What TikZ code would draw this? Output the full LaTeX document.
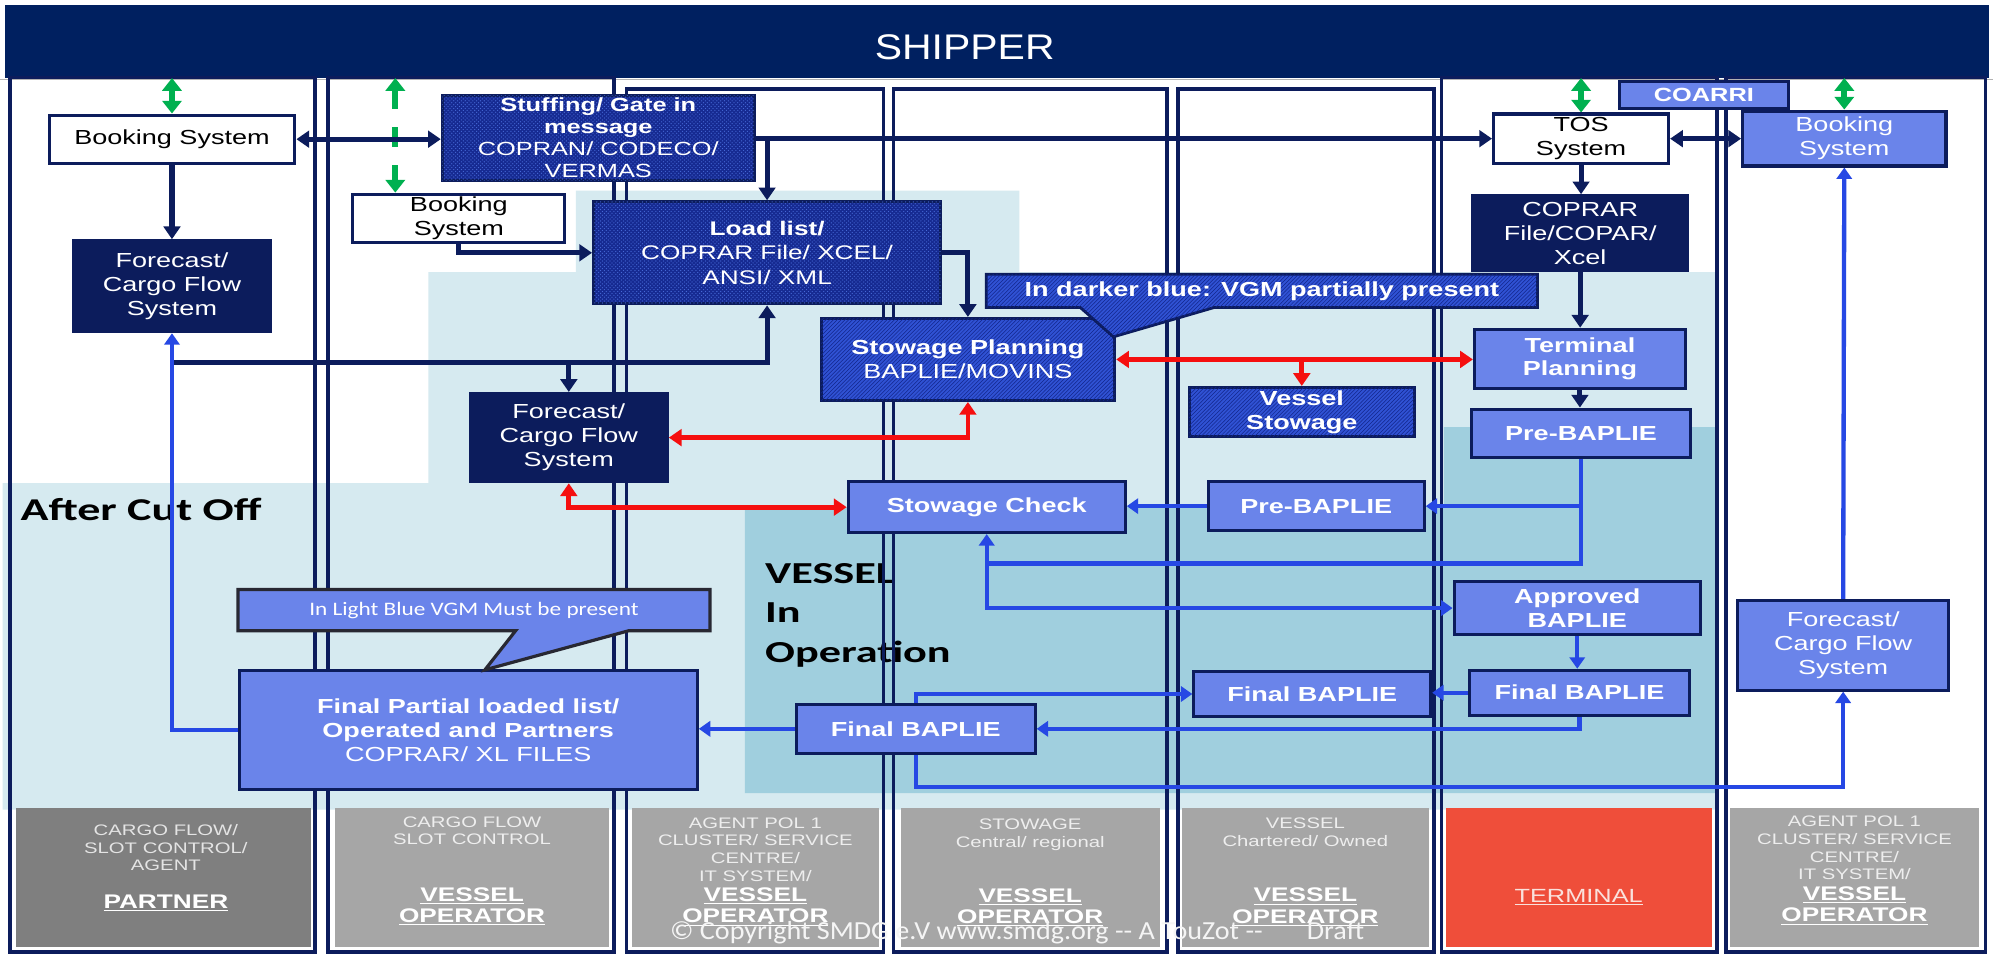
\documentclass[tikz,border=0pt]{standalone}
\usepackage{fontspec}
\setmainfont{Liberation Sans}[FakeStretch=1.33]
\newfontfamily\hdrfont{Liberation Sans}[FakeStretch=1.15]
\newfontfamily\calB{Carlito}[FakeStretch=1.45]
\newfontfamily\calR{Carlito}[FakeStretch=1.22]
\newfontfamily\calC{Carlito}[FakeStretch=1.08]
\usetikzlibrary{arrows.meta,patterns}
\pgfdeclarelayer{back}
\pgfdeclarelayer{mid}
\pgfsetlayers{back,mid,main}
\definecolor{hdrnavy}{RGB}{0,32,96}
\definecolor{navy}{RGB}{12,28,92}
\definecolor{lbfill}{RGB}{106,132,234}
\definecolor{bline}{RGB}{38,72,228}
\definecolor{redline}{RGB}{245,15,15}
\definecolor{greenline}{RGB}{0,176,80}
\definecolor{bglight}{RGB}{214,234,240}
\definecolor{bgdark}{RGB}{160,207,222}
\definecolor{grayA}{RGB}{127,127,127}
\definecolor{grayB}{RGB}{166,166,166}
\definecolor{termred}{RGB}{239,78,58}
\definecolor{hatchbg}{RGB}{48,82,212}
\definecolor{hatchfg}{RGB}{18,38,140}
\definecolor{dotbg}{RGB}{22,42,145}
\definecolor{dotfg}{RGB}{70,105,215}
\definecolor{calloutline}{RGB}{40,40,50}
\definecolor{graytxt}{RGB}{238,238,238}
\definecolor{graytxtA}{RGB}{228,228,228}
\definecolor{termtxt}{RGB}{250,225,220}
\definecolor{copytxt}{RGB}{245,245,245}
\tikzset{
  box/.style={draw=navy, line width=2.4pt, inner sep=0pt, align=center,
    font=\fontsize{16}{18.8}\selectfont},
  whitebox/.style={box, fill=white, text=black},
  navybox/.style={box, fill=navy, text=white},
  lbbox/.style={box, fill=lbfill, text=white},
  hatchbox/.style={box, fill=hatchbg, text=white,
    postaction={pattern=north east lines, pattern color=hatchfg}},
  dotbox/.style={box, fill=dotbg, text=white,
    postaction={pattern=crosshatch dots, pattern color=dotfg}},
  colln/.style={draw=navy, line width=2.8pt},
  nv/.style={draw=navy, line width=4pt},
  rd/.style={draw=redline, line width=3.7pt},
  bl/.style={draw=bline, line width=3.4pt},
  gr/.style={draw=greenline, line width=4.5pt},
  arr/.style={-{Triangle[length=10pt,width=13pt]}},
  darr/.style={{Triangle[length=10pt,width=13pt]}-{Triangle[length=10pt,width=13pt]}},
  barr/.style={-{Triangle[length=9pt,width=12pt]}},
  garr/.style={{Triangle[length=10pt,width=15pt]}-{Triangle[length=10pt,width=15pt]}},
  graytext/.style={align=center, inner sep=0pt, text=graytxt,
    font=\fontsize{12}{13.9}\selectfont},
  graybold/.style={align=center, inner sep=0pt, text=white,
    font=\bfseries\fontsize{15.5}{16.8}\selectfont},
  biglabel/.style={anchor=base west, inner sep=0pt, text=black,
    font=\calB\bfseries\fontsize{24}{30}\selectfont}
}
\begin{document}
\begin{tikzpicture}[x=1pt,y=-1pt]
\useasboundingbox (0,0) rectangle (1568,751.35);
\begin{pgfonlayer}{back}
\fill[white] (0,0) rectangle (1568,751.35);
\fill[bglight] (453,150) -- (802,150) -- (802,214) -- (1352,214) -- (1352,637)
  -- (2,637) -- (2,380) -- (337,380) -- (337,214) -- (453,214) -- cycle;
\fill[bgdark] (586,399) -- (1136,399) -- (1136,336) -- (1352,336) -- (1352,624)
  -- (586,624) -- cycle;
\node[fill=hdrnavy, inner sep=0pt, minimum width=1561pt, minimum height=57pt,
  anchor=north west] (hdr) at (4,4) {};
\node[text=white, inner sep=0pt, font=\hdrfont\fontsize{28}{30}\selectfont]
  (shipper) at (759,37) {SHIPPER};
\draw[gray!60, line width=0.8pt] (0,62.5) -- (1568,62.5);
\node[biglabel, font=\calB\bfseries\fontsize{25}{30}\selectfont] (aco) at (16,409.8) {After Cut Off};
\node[biglabel] (vop1) at (601.8,459) {VESSEL};
\node[biglabel] (vop2) at (601.8,490) {In};
\node[biglabel] (vop3) at (601.8,521.5) {Operation};
\draw[colln] (8,61) rectangle (248,749);
\draw[colln] (258,61) rectangle (483,749);
\draw[colln] (493,70) rectangle (695,749);
\draw[colln] (703,70) rectangle (918,749);
\draw[colln] (927,70) rectangle (1128,749);
\draw[colln] (1134,61) rectangle (1351,749);
\draw[colln] (1358,61) rectangle (1562,749);
\fill[grayA] (12.5,636) rectangle (245,745);
\fill[grayB] (263.5,636) rectangle (479.3,745);
\fill[grayB] (497,636) rectangle (691.6,745);
\fill[grayB] (708.5,636) rectangle (912.5,745);
\fill[grayB] (930.2,636) rectangle (1124,745);
\fill[termred] (1138,636) rectangle (1346.6,745);
\fill[grayB] (1361,636) rectangle (1557,745);
\node[graytext, text=graytxtA] (t1a) at (130.5,667) {CARGO FLOW/\\SLOT CONTROL/\\AGENT};
\node[graybold] (t1b) at (130.5,710.4) {\underline{PARTNER}};
\node[graytext] (t2a) at (371.4,653.6) {CARGO FLOW\\SLOT CONTROL};
\node[graybold] (t2b) at (371.4,713) {\underline{VESSEL}\\\underline{OPERATOR}};
\node[graytext] (t3a) at (594.3,668.4) {AGENT POL 1\\CLUSTER/ SERVICE\\CENTRE/\\IT SYSTEM/};
\node[graybold] (t3b) at (594.3,713.3) {\underline{VESSEL}\\\underline{OPERATOR}};
\node[graytext] (t4a) at (810.5,656.5) {STOWAGE\\Central/ regional};
\node[graybold] (t4b) at (810.5,714) {\underline{VESSEL}\\\underline{OPERATOR}};
\node[graytext] (t5a) at (1027,655) {VESSEL\\Chartered/ Owned};
\node[graybold] (t5b) at (1027,713.6) {\underline{VESSEL}\\\underline{OPERATOR}};
\node[inner sep=0pt, text=termtxt, font=\fontsize{15}{17}\selectfont] (t6) at (1242,705.7) {\underline{TERMINAL}};
\node[graytext] (t7a) at (1459,667.2) {AGENT POL 1\\CLUSTER/ SERVICE\\CENTRE/\\IT SYSTEM/};
\node[graybold] (t7b) at (1459,712.5) {\underline{VESSEL}\\\underline{OPERATOR}};
\end{pgfonlayer}

% ---------- nodes ----------
\node[whitebox, minimum width=193.4pt, minimum height=38pt] (bsA) at (135.3,109.5) {Booking System};
\node[navybox, minimum width=154.6pt, minimum height=71.6pt] (fcA) at (135.3,225.2) {Forecast/\\Cargo Flow\\System};
\node[whitebox, minimum width=166.8pt, minimum height=38.3pt] (bsB) at (361,171.9) {Booking\\System};
\node[dotbox, minimum width=245.4pt, minimum height=67.4pt, font=\fontsize{15}{17.2}\selectfont] (stf) at (470.7,108.5)
  {\textbf{Stuffing/ Gate in}\\\textbf{message}\\COPRAN/ CODECO/\\VERMAS};
\node[dotbox, minimum width=273pt, minimum height=80.3pt, font=\fontsize{15.5}{19.2}\selectfont] (ll) at (603.5,198.9)
  {\textbf{Load list/}\\COPRAR File/ XCEL/\\ANSI/ XML};
\node[navybox, minimum width=155pt, minimum height=69.5pt] (fcB) at (447.5,344.3) {Forecast/\\Cargo Flow\\System};
\node[hatchbox, minimum width=231pt, minimum height=64.5pt] (sp) at (761.5,282.8) {\textbf{Stowage Planning}\\BAPLIE/MOVINS};
\node[hatchbox, minimum width=177.3pt, minimum height=38.9pt] (vs) at (1024.2,324.3) {\textbf{Vessel}\\\textbf{Stowage}};
\node[lbbox, minimum width=218pt, minimum height=40pt] (sc) at (776.3,399) {\textbf{Stowage Check}};
\node[lbbox, minimum width=170pt, minimum height=38.4pt] (pbE) at (1035.5,398.2) {\textbf{Pre-BAPLIE}};
\node[whitebox, minimum width=137.7pt, minimum height=38.8pt] (tos) at (1243.9,109.1) {TOS\\System};
\node[lbbox, minimum width=133pt, minimum height=21pt, font=\bfseries\fontsize{15}{17}\selectfont] (coarri) at (1340.5,74.8) {COARRI};
\node[lbbox, minimum width=160pt, minimum height=43.2pt] (bsG) at (1451,109) {Booking\\System};
\node[navybox, minimum width=169pt, minimum height=59pt] (cop) at (1243.2,183.5) {COPRAR\\File/COPAR/\\Xcel};
\node[lbbox, minimum width=166pt, minimum height=46.6pt] (tp) at (1243,282.3) {\textbf{Terminal}\\\textbf{Planning}};
\node[lbbox, minimum width=171.8pt, minimum height=38.3pt] (pbF) at (1243.9,341) {\textbf{Pre-BAPLIE}};
\node[lbbox, minimum width=193.8pt, minimum height=41.2pt] (ap) at (1240.9,478.4) {\textbf{Approved}\\\textbf{BAPLIE}};
\node[lbbox, minimum width=173.7pt, minimum height=35.4pt] (fbF) at (1242.6,545) {\textbf{Final BAPLIE}};
\node[lbbox, minimum width=186.3pt, minimum height=35pt] (fbE) at (1032.4,546) {\textbf{Final BAPLIE}};
\node[lbbox, minimum width=188pt, minimum height=38.9pt] (fbC) at (720.4,573.4) {\textbf{Final BAPLIE}};
\node[lbbox, minimum width=360.4pt, minimum height=93.4pt] (fp) at (368.4,574.5)
  {\textbf{Final Partial loaded list/}\\\textbf{Operated and Partners}\\COPRAR/ XL FILES};
\node[lbbox, minimum width=165.7pt, minimum height=70.3pt] (fcG) at (1450.1,507.8) {Forecast/\\Cargo Flow\\System};

% ---------- connectors ----------
\coordinate (gd) at (311,0);
\coordinate (fcj) at (135.3,285.4);
\coordinate (yb) at (0,443.4);
\coordinate (yc) at (0,619.1);
\begin{pgfonlayer}{mid}
% green
\draw[gr, garr] (bsA.north |- hdr.south) -- (bsA.north);
\draw[gr, garr, dash pattern=on 15pt off 14.4pt on 15.7pt off 14.3pt on 30pt] (gd |- hdr.south) -- (gd |- bsB.north);
\draw[gr, garr] (tos.north |- hdr.south) -- (tos.north);
\draw[gr, garr] (bsG.north |- hdr.south) -- (bsG.north);
% navy
\draw[nv, darr] (bsA.east) -- (bsA.east -| stf.west);
\draw[nv, arr] (stf.east |- tos.west) -- (tos.west);
\draw[nv, arr] (ll.north |- tos.west) -- (ll.north);
\draw[nv, arr] (bsA.south) -- (fcA.north);
\draw[nv, arr] (bsB.south) |- (ll.west);
\draw[nv, arr] (fcj) -| (ll.south);
\draw[nv, arr] (fcB.north |- fcj) -- (fcB.north);
\draw[nv, arr] (ll.east) -| (sp.north);
\draw[nv, darr] (tos.east) -- (bsG.west |- tos.east);
\draw[nv, arr] (tos.south) -- (tos.south |- cop.north);
\draw[nv, arr] (cop.south) -- (cop.south |- tp.north);
\draw[nv, arr] (tp.south) -- (tp.south |- pbF.north);
% red
\draw[rd, darr] (fcB.east) -| (sp.south);
\draw[rd, darr] (fcB.south) |- (sc.west);
\draw[rd, darr] (sp.east) -- (tp.west |- sp.east);
\draw[rd, arr] (vs.north |- sp.east) -- (vs.north);
% blue
\draw[bl, barr] (pbE.west) -- (sc.east |- pbE.west);
\draw[bl, barr] (pbF.south) |- (sc.south |- yb) -- (sc.south);
\draw[bl, barr] (pbF.south |- pbE.east) -- (pbE.east);
\draw[bl, barr] (sc.south |- yb) |- (ap.west);
\draw[bl, barr] (ap.south) -- (ap.south |- fbF.north);
\draw[bl, barr] (fbF.west) -- (fbE.east |- fbF.west);
\draw[bl, barr] (fbF.south) |- (fbC.east);
\draw[bl, barr] (fbC.north) |- (fbE.west);
\draw[bl, barr] (fbC.south) |- (fcG.south |- yc) -- (fcG.south);
\draw[bl, barr] (fbC.west) -- (fp.east |- fbC.west);
\draw[bl, barr] (fp.west) -| (fcA.south);
\draw[bl, barr] (fcG.north) -- (bsG.south);
\end{pgfonlayer}

% ---------- callouts ----------
\path[draw=navy, line width=2.2pt, fill=hatchbg, postaction={pattern=north east lines, pattern color=hatchfg}]
  (776,215.7) -- (1209.6,215.7) -- (1209.6,242) -- (955,242) -- (876,265) -- (850,242) -- (776,242) -- cycle;
\node[text=white, inner sep=0pt, font=\bfseries\fontsize{16}{19}\selectfont] (cl1) at (992.8,229) {In darker blue: VGM partially present};
\path[draw=calloutline, line width=2.5pt, fill=lbfill]
  (187.3,463.8) -- (558.6,463.8) -- (558.6,496.3) -- (494.4,496.3) -- (381.5,527) -- (405.6,496.3) -- (187.3,496.3) -- cycle;
\node[text=white, inner sep=0pt, font=\calR\fontsize{15}{18}\selectfont] (cl2) at (372.9,480.5) {In Light Blue VGM Must be present};

% ---------- copyright ----------
\node[anchor=base west, inner sep=0pt, text=copytxt, font=\calC\fontsize{20.5}{22}\selectfont] (copy) at (527,739)
  {© Copyright SMDG e.V www.smdg.org -- A TouZot --};
\node[anchor=base west, inner sep=0pt, text=copytxt, font=\calC\fontsize{20.5}{22}\selectfont] (draft) at (1028,739) {Draft};
\end{tikzpicture}
\end{document}
